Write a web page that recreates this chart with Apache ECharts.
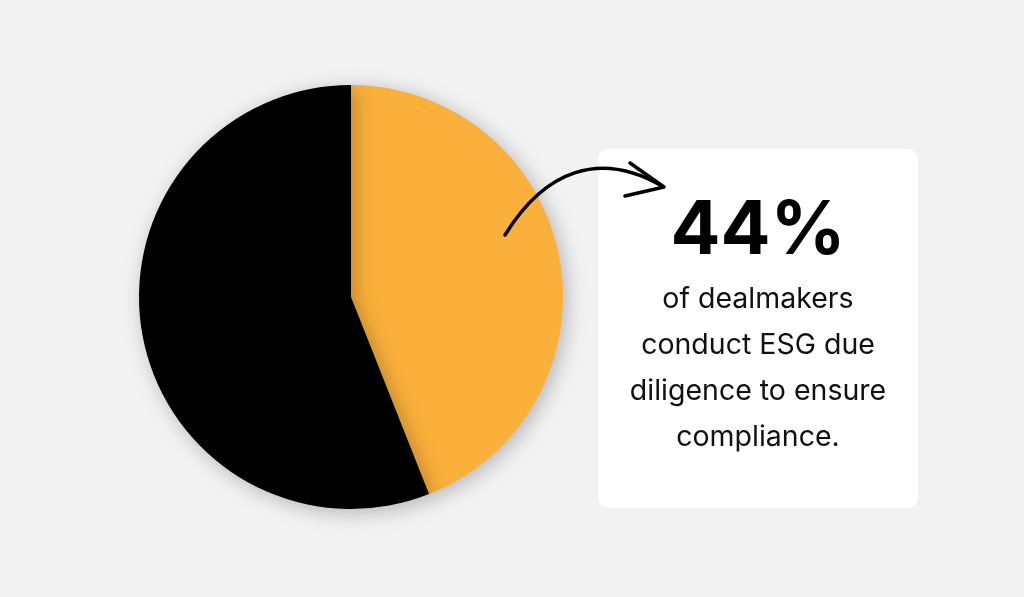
<!DOCTYPE html>
<html><head><meta charset="utf-8">
<script src="https://cdn.jsdelivr.net/npm/echarts@6/dist/echarts.min.js"></script>
<style>html,body{margin:0;padding:0;background:#f2f2f2}#c{width:1024px;height:597px}</style>
</head><body><div id="c"></div>
<script>
const categories = ['ESG due diligence for compliance', 'Other'];
const values = [44, 56];
const colors = ['#fbb03b', '#000000'];
const headline = '44%';
const bodyLines = ['of dealmakers', 'conduct ESG due', 'diligence to ensure', 'compliance.'];

const chart = echarts.init(document.getElementById('c'));
const graphics = [
  {type:'rect', shape:{x:598,y:149,width:320,height:359,r:10}, style:{fill:'#ffffff'}, z:1},
  {type:'text', style:{text:headline, x:758, y:232, align:'center', verticalAlign:'middle', font:'bold 74px Inter, "Noto Sans", sans-serif', fill:'#000'}, z:2},
  {type:'bezierCurve', shape:{x1:505,y1:235,cpx1:545,cpy1:170,cpx2:600,cpy2:150,x2:662,y2:186}, style:{stroke:'#000', lineWidth:3.5, fill:null, lineCap:'round'}, z:3},
  {type:'polyline', shape:{points:[[630,163],[664,187],[625,196]]}, style:{stroke:'#000', lineWidth:3.5, fill:null, lineCap:'round', lineJoin:'round'}, z:3}
];
bodyLines.forEach((t,i)=>graphics.push({type:'text', style:{text:t, x:758, y:299+i*46, align:'center', verticalAlign:'middle', font:'28.5px Inter, "Noto Sans", sans-serif', fill:'#111'}, z:2}));

chart.setOption({
  backgroundColor:'#f2f2f2',
  animation:false,
  series:[{
    type:'pie', center:[351,297], radius:[0,212], startAngle:90, clockwise:true,
    label:{show:false}, labelLine:{show:false}, silent:true,
    itemStyle:{shadowBlur:20, shadowColor:'rgba(0,0,0,0.25)', shadowOffsetX:4, shadowOffsetY:4},
    data: categories.map((c,i)=>({name:c, value:values[i], itemStyle:{color:colors[i]}}))
  }],
  graphic: graphics
});
</script></body></html>
